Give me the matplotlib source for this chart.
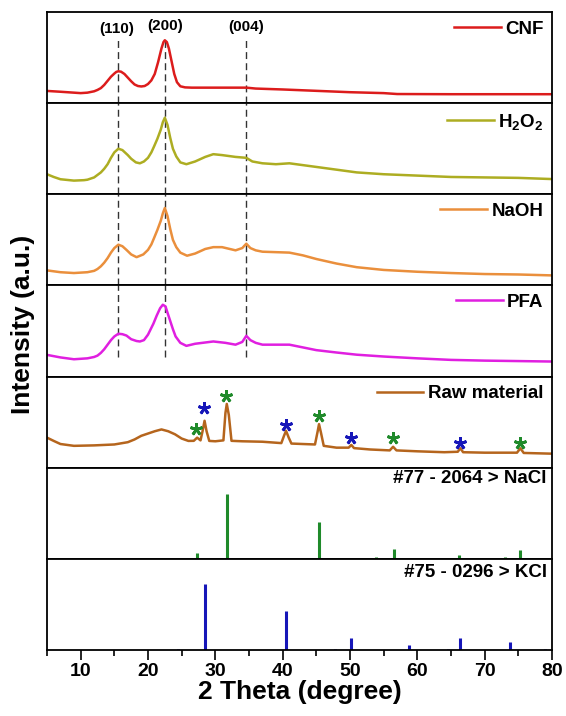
import matplotlib
matplotlib.use("Agg")
import matplotlib.pyplot as plt

plt.rcParams['font.family'] = ['Liberation Sans', 'DejaVu Sans']
plt.rcParams['mathtext.fontset'] = 'custom'
plt.rcParams['mathtext.rm'] = 'Liberation Sans:bold'
plt.rcParams['mathtext.bf'] = 'Liberation Sans:bold'
plt.rcParams['mathtext.default'] = 'bf'

# ---- data (2-theta in degrees, intensity in arbitrary units) ----
cnf_x = [5, 7, 9, 10, 11, 12, 12.5, 13, 13.5, 14, 14.5, 15, 15.3, 15.6, 16, 16.5, 17, 17.5, 18, 18.5, 19,
         19.5, 20, 20.5, 21, 21.5, 22, 22.3, 22.5, 22.8, 23.1, 23.5, 23.9, 24.3, 24.8, 25.5, 26.5, 30, 34.6,
         36, 40, 45, 50, 55, 57, 65, 80]
cnf_y = [13.4, 12.5, 11.5, 11, 11.5, 13, 14.5, 16.5, 20, 24.5, 29, 32.5, 34.3, 35, 34.5, 32, 28, 24, 20.5,
         18.8, 18.3, 18.8, 21, 25, 32, 45, 60, 67, 69, 67, 60, 46, 32, 23, 18.5, 17.3, 17, 17, 17,
         16, 15, 13.5, 12, 11, 10, 9.8, 9.8]

h2o2_x = [5, 6, 7, 9, 10.5, 11, 12, 13, 13.5, 14, 14.5, 15, 15.6, 16.2, 17, 17.5, 18.2, 18.8, 19.4, 20,
          20.5, 20.9, 21.4, 21.9, 22.2, 22.5, 22.9, 23.3, 23.7, 24.2, 24.8, 25.7, 27, 28.5, 29.7, 31, 33,
          34.6, 35.5, 37, 39, 41, 43, 45, 48, 51, 55, 60, 65, 70, 75, 80]
h2o2_y = [22, 19, 16.5, 15, 15.5, 16, 18.5, 24, 28, 33, 40, 46, 50, 48.5, 43, 39, 35, 34, 36, 40,
          46, 52.5, 61, 71, 79, 84, 76, 62, 50, 41.5, 35, 33, 36, 41, 44, 43, 41,
          40, 36, 34, 33, 34, 32, 30, 27, 24, 22, 20.5, 19, 18.5, 18, 16.7]

naoh_x = [5, 7, 9, 11, 12, 12.5, 13, 13.5, 14, 14.5, 15, 15.6, 16.2, 16.8, 17.5, 18.3, 19.3, 20, 20.5,
          20.9, 21.4, 21.9, 22.2, 22.5, 22.9, 23.3, 23.7, 24.2, 24.8, 25.8, 27, 28.5, 29.7, 31, 33, 34,
          34.6, 35.2, 36, 37, 39, 41, 43, 45, 48, 51, 55, 60, 65, 70, 75, 80]
naoh_y = [16.5, 14.5, 13.6, 14.5, 16, 18, 21, 25, 30, 36, 41, 44.7, 43, 39, 34, 31, 34, 39, 45,
          52, 61, 71, 79, 85, 76, 62, 50, 42, 36, 32.6, 35, 40, 42, 42, 38.5, 41,
          45.8, 41, 38.5, 37, 36.5, 36, 33, 29, 24, 20, 17, 15, 13.6, 12.5, 12, 11]

pfa_x = [5, 7, 9, 11, 12, 12.5, 13, 13.5, 14, 14.5, 15, 15.6, 16.2, 16.8, 17.5, 18.3, 18.8, 19.4, 20,
         20.8, 21.3, 21.8, 22.2, 22.6, 22.9, 23.3, 23.7, 24.1, 24.8, 25.7, 27, 29.7, 31.5, 33, 34, 34.6,
         35.2, 36, 37, 41, 43, 45, 48, 51, 55, 60, 65, 70, 80]
pfa_y = [23.8, 21, 19, 20, 21.5, 23, 26, 30, 35, 40, 44, 47, 46.5, 45, 41, 39, 38.5, 40, 46,
         58, 67, 75, 78.8, 77, 70, 61, 52, 44, 37, 33.7, 36, 38.5, 37, 35, 38, 44.7,
         40, 37, 35, 35, 32, 29, 26.4, 24, 22, 20, 18.3, 17.5, 16.5]

raw_x = [5, 6, 7, 9, 12, 15, 17, 18, 19, 20, 21, 22, 23, 24, 25, 26, 26.8, 27.3, 27.8, 28.1, 28.4, 28.7,
         29.1, 30, 31.2, 31.5, 31.7, 32, 32.4, 34, 37, 39.8, 40.2, 40.5, 40.9, 41.3, 43, 44.8, 45.2, 45.4,
         45.7, 46.1, 48, 49.8, 50.2, 50.6, 53, 55.9, 56.4, 56.9, 60, 64, 66, 66.4, 66.8, 70, 74.8, 75.3,
         75.8, 80]
raw_y = [33, 29.4, 26, 24, 24.5, 25.5, 28, 31, 35, 37.5, 40, 42, 40, 36.7, 32, 29.4, 29.5, 33, 30, 40, 51.5, 40,
         29.4, 29, 30, 60, 70, 58, 29.5, 29, 28.5, 27, 35, 40.5, 33, 26.5, 26, 25.5, 40, 47.8,
         38, 24, 22, 22, 25, 21.5, 20, 19, 23, 19, 18, 17, 17.5, 21.3, 17, 16.5, 16.5, 21.3,
         16.2, 15.4]

nacl_star_x = [27.2, 31.6, 45.4, 56.4, 75.3]
nacl_star_y = [42, 79, 57, 33, 27.5]
kcl_star_x = [28.3, 40.5, 50.2, 66.4]
kcl_star_y = [66, 47, 33, 27.5]

nacl_ref_x = [27.3, 31.7, 45.4, 53.8, 56.5, 66.2, 73.0, 75.3]
nacl_ref_y = [6, 71, 40, 2, 11, 4, 2, 10]
kcl_ref_x = [24.5, 28.4, 40.5, 47.8, 50.2, 58.7, 64.6, 66.4, 73.7, 79.0]
kcl_ref_y = [1.5, 72, 43, 1.5, 13, 5.5, 1.5, 13, 8.5, 1]

plane_labels = ['(110)', '(200)', '(004)']
plane_x = [15.6, 22.5, 34.6]
plane_label_x = [15.3, 22.5, 34.6]

curve_names = ['CNF', 'H$_2$O$_2$', 'NaOH', 'PFA', 'Raw material']
ref_labels = ['#77 - 2064 > NaCl', '#75 - 0296 > KCl']
xticks = [10, 20, 30, 40, 50, 60, 70, 80]

# ---- style ----
curve_colors = ['#dc1c1c', '#adad22', '#ea8f3c', '#e01fe0', '#b5651d']
green = '#1f8a2a'
blue = '#1616b8'

fig = plt.figure(figsize=(5.66, 7.16), dpi=100)
left, right, top, bottom = 47 / 566, 552 / 566, 1 - 12 / 716, 1 - 650 / 716
n = 7
h = (top - bottom) / n
axes = [fig.add_axes([left, top - (i + 1) * h, right - left, h]) for i in range(n)]

curves = [(cnf_x, cnf_y), (h2o2_x, h2o2_y), (naoh_x, naoh_y), (pfa_x, pfa_y), (raw_x, raw_y)]
for i, ax in enumerate(axes):
    ax.set_xlim(5, 80)
    ax.set_ylim(0, 100)
    ax.set_yticks([])
    for s in ax.spines.values():
        s.set_linewidth(1.3)
    if i < n - 1:
        ax.tick_params(axis='x', which='both', bottom=False, labelbottom=False)

for i, (xs, ys) in enumerate(curves):
    ax = axes[i]
    ax.plot(xs, ys, color=curve_colors[i], lw=1.8, label=curve_names[i])
    leg = ax.legend(loc='upper right', frameon=False, fontsize=13.5, handlelength=2.5,
                    handletextpad=0.25, borderaxespad=0.2, borderpad=0.25)
    for t in leg.get_texts():
        t.set_fontweight('bold')

# dashed reference lines for crystal planes
dash_ranges = [(0, 0.73), (0, 1), (0, 1), (0.22, 1)]
for i, (y0, y1) in enumerate(dash_ranges):
    for px in plane_x:
        axes[i].axvline(px, ymin=y0, ymax=y1, color='#333333', lw=1.0, ls=(0, (5, 3)), zorder=0)
label_y = [0.815, 0.845, 0.83]
for lbl, px, ly in zip(plane_labels, plane_label_x, label_y):
    axes[0].text(px, ly * 100, lbl, ha='center', va='center', fontsize=11, fontweight='bold')

# stars on raw material
axes[4].plot(nacl_star_x, nacl_star_y, ls='none', marker=(5, 2, 0), ms=9, mew=2, color=green)
axes[4].plot(kcl_star_x, kcl_star_y, ls='none', marker=(5, 2, 0), ms=9, mew=2, color=blue)

# reference patterns
axes[5].vlines(nacl_ref_x, 0, nacl_ref_y, color=green, lw=2.2)
axes[6].vlines(kcl_ref_x, 0, kcl_ref_y, color=blue, lw=2.2)
axes[5].text(0.99, 0.88, ref_labels[0], transform=axes[5].transAxes, ha='right', va='center',
             fontsize=13.5, fontweight='bold')
axes[6].text(0.99, 0.845, ref_labels[1], transform=axes[6].transAxes, ha='right', va='center',
             fontsize=13.5, fontweight='bold')

axb = axes[-1]
axb.set_xticks(xticks)
axb.set_xticks([5, 15, 25, 35, 45, 55, 65, 75], minor=True)
axb.tick_params(axis='x', which='major', direction='out', length=7, width=1.2, pad=2, labelsize=14)
axb.tick_params(axis='x', which='minor', direction='out', length=4, width=1.2)
for t in axb.get_xticklabels():
    t.set_fontweight('bold')
axb.set_xlabel('2 Theta (degree)', fontsize=19, fontweight='bold', labelpad=0)

fig.text(23 / 566, 1 - 324 / 716, 'Intensity (a.u.)', rotation=90, ha='center', va='center',
         fontsize=19, fontweight='bold')

fig.savefig('out.png', dpi=100)
